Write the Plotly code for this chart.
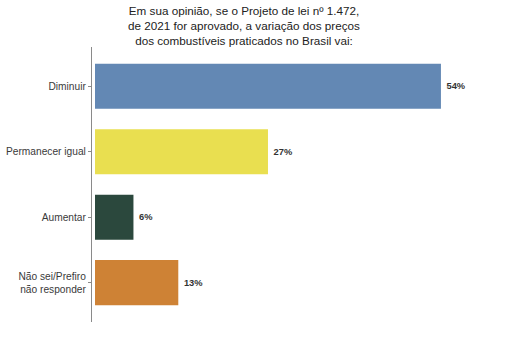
import plotly.graph_objects as go

categories = ["Diminuir", "Permanecer igual", "Aumentar", "Não sei/Prefiro<br>não responder"]
values = [54, 27, 6, 13]
labels = ["54%", "27%", "6%", "13%"]
colors = ["#6388b4", "#e9df50", "#2b483d", "#ce8235"]

title_text = ("Em sua opinião, se o Projeto de lei nº 1.472,<br>"
              "de 2021 for aprovado, a variação dos preços<br>"
              "dos combustíveis praticados no Brasil vai:")

fig = go.Figure(go.Bar(
    x=values, y=categories, orientation="h",
    marker=dict(color=colors, line=dict(width=0)),
    width=0.69,
    text=["<b> " + t + "</b>" for t in labels],
    textposition="outside",
    textfont=dict(size=9.3, color="#333333", family="Liberation Sans"),
    cliponaxis=False,
))

fig.update_layout(
    width=511, height=342,
    margin=dict(l=92, r=6, t=47, b=20, autoexpand=False),
    paper_bgcolor="white", plot_bgcolor="white",
    font=dict(family="Liberation Sans, Arial, sans-serif"),
    showlegend=False,
    annotations=[dict(text=title_text, xref="paper", yref="paper",
                      x=(244 - 92) / 413, y=1 + 45 / 275,
                      xanchor="center", yanchor="top", showarrow=False,
                      align="center",
                      font=dict(size=11.7, color="#222222"))],
)
fig.update_xaxes(range=[-0.47, 64.0], showticklabels=False, showgrid=False,
                 zeroline=False, showline=False, ticks="", automargin=False)
fig.update_yaxes(categoryorder="array", categoryarray=categories,
                 range=[3.6, -0.6], showgrid=False, zeroline=False, automargin=False,
                 showline=True, linecolor="#8a8a8a", linewidth=1.2,
                 ticks="outside", ticklen=3, tickcolor="#8a8a8a", tickwidth=1,
                 tickfont=dict(size=10.2, color="#3a3a3a"))

fig.write_html("out.html")
